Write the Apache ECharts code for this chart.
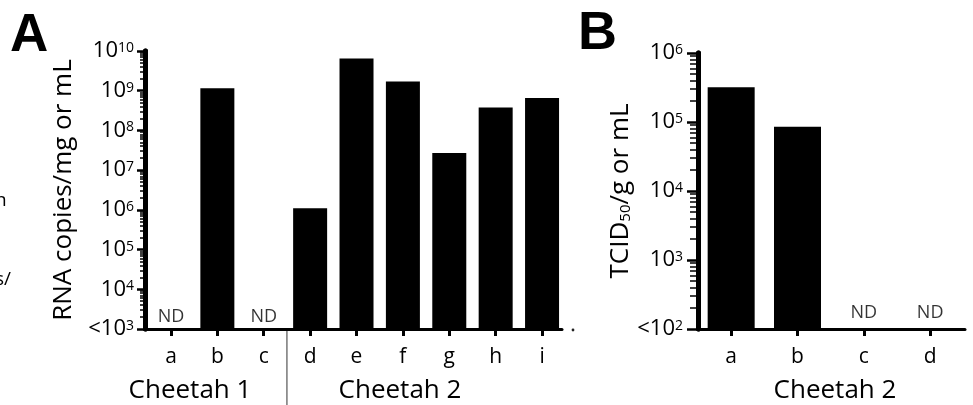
<!DOCTYPE html>
<html><head><meta charset="utf-8">
<script src="https://cdn.jsdelivr.net/npm/echarts@6/dist/echarts.min.js"></script>
<style>html,body{margin:0;padding:0;background:#fff}#c{width:973px;height:405px}</style>
</head><body><div id="c"></div>
<script>
// ---------- data ----------
const catsA = ['a','b','c','d','e','f','g','h','i'];
const valuesA = ['ND', 1.15e9, 'ND', 1.1e6, 6.5e9, 1.7e9, 2.7e7, 3.8e8, 6.6e8]; // RNA copies/mg or mL
const groupsA = ['Cheetah 1', 'Cheetah 2'];
const tickExpA = [3,4,5,6,7,8,9,10];

const catsB = ['a','b','c','d'];
const valuesB = [3.2e5, 8.5e4, 'ND', 'ND']; // TCID50/g or mL
const groupB = 'Cheetah 2';
const tickExpB = [2,3,4,5,6];

const yNameA = 'RNA copies/mg or mL';
const FONT = 'Open Sans';

// ---------- helpers ----------
function minorTicks(exps){
  const out = [];
  for (let k = exps[0]; k < exps[exps.length-1]; k++) for (let m = 2; m <= 9; m++) out.push(m*Math.pow(10,k));
  return out;
}
function tickLabel(minExp){
  return function(v){
    const e = Math.round(Math.log10(v));
    return '{b|' + (e === minExp ? '<10' : '10') + '}{s|' + e + '}';
  };
}
const richTick = {
  b:{fontSize:22, fontFamily:FONT, color:'#000', lineHeight:20},
  s:{fontSize:14, fontFamily:FONT, color:'#000', lineHeight:10, verticalAlign:'top'}
};
function barData(vals){ return vals.map((v,i)=>[i,v]).filter(d=>typeof d[1]==='number'); }
function ndData(vals, floor){ return vals.map((v,i)=>[i, v==='ND' ? floor : null]).filter(d=>d[1]!==null); }

function xAxisCfg(gi, cats, min, max){
  const idx = cats.map((_,i)=>i);
  return {
    gridIndex: gi, type:'value', min:min, max:max,
    axisLine:{show:true, onZero:false, lineStyle:{color:'#000', width:3}},
    axisTick:{show:true, customValues: idx, length:7, lineStyle:{color:'#000', width:3}},
    axisLabel:{show:true, customValues: idx, formatter: v => cats[Math.round(v)], fontSize:21, fontFamily:FONT, color:'#000', margin:18},
    splitLine:{show:false}
  };
}
function yAxisMain(gi, exps, name, nameGap, margin, tickLen){
  return {
    gridIndex: gi, type:'log', logBase:10, min:Math.pow(10,exps[0]), max:Math.pow(10,exps[exps.length-1]),
    position:'left',
    axisLine:{show:true, onZero:false, lineStyle:{color:'#000', width:5}},
    axisTick:{show:true, length:tickLen, lineStyle:{color:'#000', width:2.5}},
    axisLabel:{formatter: tickLabel(exps[0]), rich: richTick, margin: margin},
    splitLine:{show:false},
    name: name, nameLocation:'middle', nameGap: nameGap,
    nameTextStyle:{fontSize:26, fontFamily:FONT, color:'#000',
      rich:{n:{fontSize:26, fontFamily:FONT, color:'#000'}, sub:{fontSize:15, fontFamily:FONT, color:'#000', verticalAlign:'bottom', lineHeight:22}}}
  };
}
function yAxisMinor(gi, exps, tickLen){
  return {
    gridIndex: gi, type:'log', logBase:10, min:Math.pow(10,exps[0]), max:Math.pow(10,exps[exps.length-1]),
    position:'left', offset:0,
    axisLine:{show:true, onZero:false, lineStyle:{color:'#000', width:5}},
    axisTick:{show:true, customValues: minorTicks(exps), length:tickLen, lineStyle:{color:'#000', width:1.5}},
    axisLabel:{show:false}, splitLine:{show:false}
  };
}

const chart = echarts.init(document.getElementById('c'), null, {renderer:'canvas'});
chart.setOption({
  animation:false,
  backgroundColor:'#fff',
  grid:[
    {left:145, top:51, width:417, height:278},
    {left:698, top:53, width:267, height:276}
  ],
  xAxis:[ xAxisCfg(0, catsA, -0.56, 8.43), xAxisCfg(1, catsB, -0.5, 3.525) ],
  yAxis:[
    yAxisMain(0, tickExpA, yNameA, 68, 11, 8),
    yAxisMinor(0, tickExpA, 5),
    yAxisMain(1, tickExpB, '{n|TCID}{sub|50}{n|/g or mL}', 62, 15, 11),
    yAxisMinor(1, tickExpB, 8)
  ],
  series:[
    {type:'bar', xAxisIndex:0, yAxisIndex:0, barWidth:34, clip:true, itemStyle:{color:'#000'}, data: barData(valuesA)},
    {type:'scatter', xAxisIndex:0, yAxisIndex:0, clip:false, symbolSize:0, itemStyle:{color:'#000'},
      label:{show:true, position:'top', distance:3, formatter:'ND', fontSize:18, fontFamily:FONT, color:'#000'},
      data: ndData(valuesA, Math.pow(10, tickExpA[0]))},
    {type:'bar', xAxisIndex:1, yAxisIndex:2, barWidth:47, clip:true, itemStyle:{color:'#000'}, data: barData(valuesB)},
    {type:'scatter', xAxisIndex:1, yAxisIndex:2, clip:false, symbolSize:0, itemStyle:{color:'#000'},
      label:{show:true, position:'top', distance:7, formatter:'ND', fontSize:18, fontFamily:FONT, color:'#000'},
      data: ndData(valuesB, Math.pow(10, tickExpB[0]))}
  ]
});

const sepX = chart.convertToPixel({xAxisIndex:0}, 2.5);
const baseY = chart.convertToPixel({yAxisIndex:0}, Math.pow(10, tickExpA[0]));
function txt(text, x, y, font, align){
  return {type:'text', x:x, y:y, style:{text:text, font:font, fill:'#000', align:align||'center', verticalAlign:'middle', textAlign:align||'center', textVerticalAlign:'middle'}};
}
chart.setOption({graphic:{elements:[
  txt('A', 10, 36, 'bold 53px "Liberation Sans"', 'left'),
  txt('B', 578, 34, 'bold 54px "Liberation Sans"', 'left'),
  txt(groupsA[0], 190, 391, '26px "Open Sans"'),
  txt(groupsA[1], 400, 391, '26px "Open Sans"'),
  txt(groupB, 835, 391, '26px "Open Sans"'),
  txt('n', -5, 201, '19px "Open Sans"', 'left'),
  txt('s/', -5, 280, '19px "Open Sans"', 'left'),
  {type:'line', shape:{x1:sepX, y1:baseY, x2:sepX, y2:405}, style:{stroke:'#333', lineWidth:1}},
  {type:'circle', shape:{cx:573, cy:330, r:1.4}, style:{fill:'#222'}}
]}});
</script></body></html>
